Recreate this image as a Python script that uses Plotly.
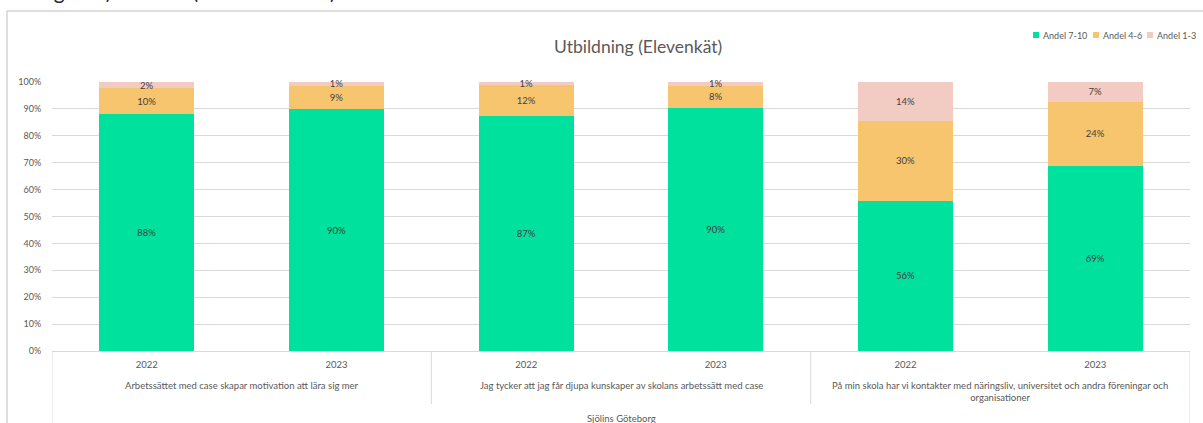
import plotly.graph_objects as go

groups = [
    "Arbetssättet med case skapar motivation att lära sig mer",
    "Jag tycker att jag får djupa kunskaper av skolans arbetssätt med case",
    "På min skola har vi kontakter med näringsliv, universitet och andra föreningar och<br>organisationer",
]
years = ["2022", "2023"]
school = "Sjölins Göteborg"
title_text = "Utbildning (Elevenkät)"
heading_text = "lära sig mer) över tid (från Elevenkät)"

series_names = ["Andel 7-10", "Andel 4-6", "Andel 1-3"]
andel_7_10 = [88.1, 89.9, 87.4, 90.4, 55.8, 68.9]
andel_4_6 = [9.6, 8.7, 11.6, 8.2, 29.8, 23.8]
andel_1_3 = [2.3, 1.4, 1.0, 1.4, 14.4, 7.3]
colors = ["#00E19E", "#F8C56F", "#F2CCC3"]

W, H = 1203, 423
L, R, T, B = 52, 13, 82, 72
pw, ph = W - L - R, H - T - B

def px(p):
    return (p - L) / pw

def py(q):
    return (H - B - q) / ph

x_idx = list(range(len(groups) * len(years)))
tick_text = [y for g in groups for y in years]

fig = go.Figure()
for name, vals, col in zip(series_names, [andel_7_10, andel_4_6, andel_1_3], colors):
    fig.add_trace(go.Bar(
        x=x_idx, y=[v / 100 for v in vals], name=name,
        marker=dict(color=col, line=dict(width=0)),
        text=[f"{round(v):d}%" for v in vals], textposition="inside",
        insidetextanchor="middle", textangle=0,
        textfont=dict(size=9.5, color="#404040"),
        hoverinfo="skip", showlegend=False, cliponaxis=False,
    ))

shapes = []
# outer frame
shapes.append(dict(type="rect", xref="paper", yref="paper",
                   x0=px(7), x1=px(1230), y0=py(11), y1=py(450),
                   line=dict(color="#BFBFBF", width=1), layer="below"))
# category dividers
n = len(x_idx)
for b in range(0, n + 1, len(years)):
    xb = b - 0.5
    outer = (b == 0 or b == n)
    shapes.append(dict(type="line", xref="x", yref="paper",
                       x0=xb, x1=xb, y0=0, y1=py(440 if outer else 404),
                       line=dict(color="#D9D9D9", width=1)))

annotations = []
for gi, g in enumerate(groups):
    cx = gi * len(years) + (len(years) - 1) / 2
    two = "<br>" in g
    annotations.append(dict(x=cx, xref="x", y=py(391 if two else 385), yref="paper",
                            text=g, showarrow=False, yanchor="middle",
                            font=dict(size=9.5, color="#595959")))
annotations.append(dict(x=(n - 1) / 2, xref="x", y=py(418), yref="paper",
                        text=school, showarrow=False, yanchor="middle",
                        font=dict(size=9.5, color="#595959")))
annotations.append(dict(x=px(638), xref="paper", y=py(47), yref="paper",
                        text=title_text, showarrow=False, yanchor="middle",
                        font=dict(size=17.5, color="#595959")))
annotations.append(dict(x=px(-1), xref="paper", xanchor="left", y=py(-10), yref="paper",
                        text=heading_text, showarrow=False, yanchor="middle",
                        font=dict(size=21, color="#262626")))

# manual legend (small squares + labels), Excel style
leg_x = [1033, 1093, 1147]
leg_y = 35
for lx, name, col in zip(leg_x, series_names, colors):
    shapes.append(dict(type="rect", xref="paper", yref="paper",
                       x0=px(lx), x1=px(lx + 6), y0=py(leg_y + 3), y1=py(leg_y - 3),
                       line=dict(width=0), fillcolor=col))
    annotations.append(dict(x=px(lx + 8), xref="paper", xanchor="left",
                            y=py(leg_y), yref="paper", yanchor="middle",
                            text=name, showarrow=False,
                            font=dict(size=9, color="#595959")))

fig.update_layout(
    width=W, height=H,
    margin=dict(l=L, r=R, t=T, b=B, pad=0, autoexpand=False),
    barmode="stack", bargap=0.5,
    plot_bgcolor="white", paper_bgcolor="white",
    font=dict(family="Lato, Open Sans, sans-serif", color="#595959"),
    showlegend=False,
    xaxis=dict(tickmode="array", tickvals=x_idx, ticktext=tick_text,
               range=[-0.5, n - 0.5], showgrid=False, showline=True, linecolor="#D9D9D9",
               ticks="outside", ticklen=5, tickcolor="rgba(0,0,0,0)",
               tickfont=dict(size=9.5, color="#595959"), zeroline=False, fixedrange=True),
    yaxis=dict(range=[0, 1], dtick=0.1, tickformat=".0%", showgrid=True,
               gridcolor="#D9D9D9", gridwidth=1, zeroline=False, showline=False,
               ticks="outside", ticklen=8, tickcolor="rgba(0,0,0,0)",
               tickfont=dict(size=9, color="#595959"), fixedrange=True),
    shapes=shapes, annotations=annotations,
    uniformtext=dict(minsize=9.5, mode="show"),
)

fig.write_html(
    "out.html",
    config={"displayModeBar": False},
    post_script="document.body.style.margin='0';document.body.style.overflow='hidden';",
)
